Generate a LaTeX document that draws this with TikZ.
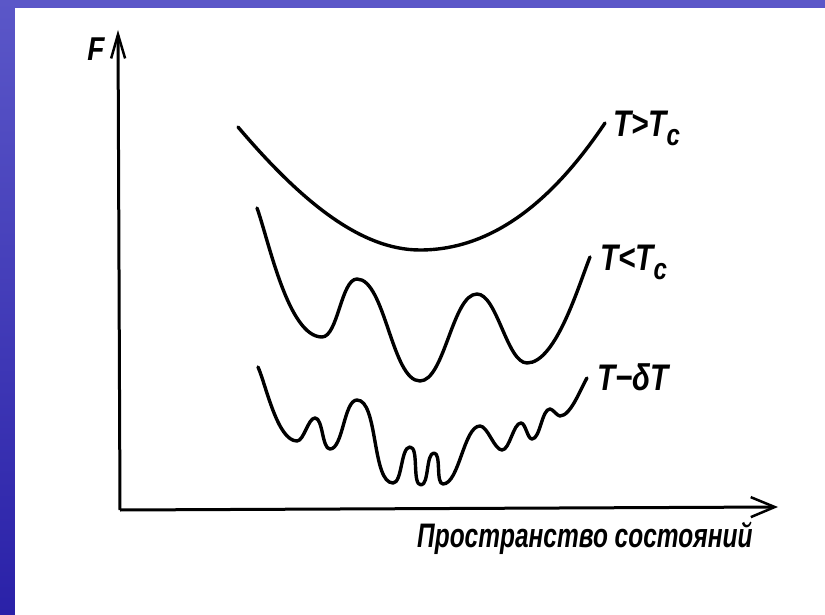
\documentclass[tikz,border=0pt]{standalone}
\usepackage{fontspec}
\setmainfont{Liberation Sans}
\usetikzlibrary{arrows.meta}
\definecolor{bgtop}{HTML}{5B57C8}
\definecolor{bgbot}{HTML}{2A21A8}
\newcommand{\subc}{\raisebox{-9pt}{\fontsize{30}{30}\selectfont c}}
\tikzset{
  curve/.style={line width=3.4pt, line cap=round, line join=round},
  wig/.style={looseness=0.6},
  axis/.style={line width=3pt},
  lbl/.style={font=\fontsize{37}{42}\selectfont\bfseries\itshape, inner sep=0pt, anchor=base west},
  axlbl/.style={font=\fontsize{34}{40}\selectfont\bfseries\itshape, inner sep=0pt, anchor=base west},
}
\begin{document}
\begin{tikzpicture}[x=1pt,y=1pt]
\useasboundingbox (0,0) rectangle (825,-615);
\shade[top color=bgtop, bottom color=bgbot] (0,0) rectangle (825,-615);
\fill[white] (15,-8) rectangle (825,-615);
% axes
\coordinate (O) at (120,-510);
\coordinate (Ytop) at (118,-30);
\coordinate (Xend) at (778,-507);
\draw[axis, -{Straight Barb[length=24pt,width=14pt,line width=2.5pt]}] (O) -- (Ytop);
\draw[axis, -{Straight Barb[length=24pt,width=20pt,line width=2.5pt]}] (O) -- (Xend);
\node[font=\fontsize{33}{36}\selectfont\bfseries\itshape, inner sep=0pt] (F) at (96,-49) {\scalebox{0.85}[1]{F}};
% curve T > Tc
\draw[curve] (238,-127) .. controls (300,-200) and (360,-250) .. (420,-250)
  .. controls (500,-250) and (560,-190) .. (605,-123);
% curve T < Tc
\draw[curve, wig] (257,-208) to[out=-70,in=180] (322,-337) to[out=0,in=180] (357,-279)
  to[out=0,in=180] (420,-381) to[out=0,in=180] (477,-294) to[out=0,in=180] (527,-363)
  to[out=0,in=-112] (590,-257);
% curve T - dT
\draw[curve, wig] (258,-367) to[out=-66,in=180] (297,-441) to[out=0,in=180] (315,-418)
  to[out=0,in=180] (330,-449) to[out=0,in=180] (357,-400) to[out=0,in=180] (393,-483)
  to[out=0,in=180] (410,-447) to[out=0,in=180] (421,-485) to[out=0,in=180] (434,-453)
  to[out=0,in=180] (443,-484) to[out=0,in=180] (480,-426) to[out=0,in=180] (502,-450)
  to[out=0,in=180] (521,-423) to[out=0,in=180] (532,-439) to[out=0,in=180] (550,-409)
  to[out=0,in=180] (560,-416) to[out=0,in=-122] (587,-378);
% labels
\node[lbl] (L1) at (613,-137) {\scalebox{0.8}[1]{T>T\subc}};
\node[lbl] (L2) at (600,-270) {\scalebox{0.8}[1]{T<T\subc}};
\node[lbl] (L3) at (597,-390) {\scalebox{0.8}[1]{T−δT}};
\node[axlbl] (XL) at (417,-547) {\scalebox{0.72}[1]{Пространство состояний}};
\end{tikzpicture}
\end{document}
